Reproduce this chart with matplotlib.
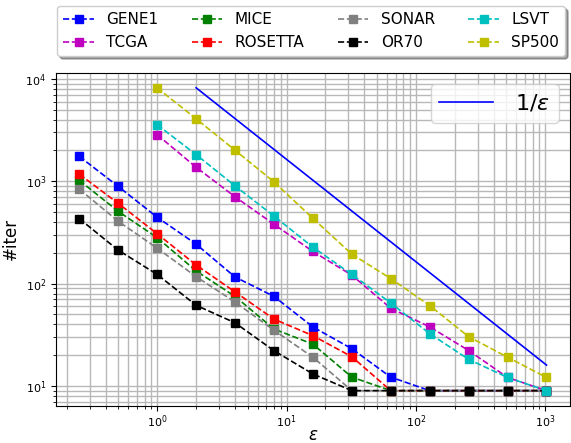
import numpy as np
import matplotlib
matplotlib.use('Agg')
import matplotlib.pyplot as plt

# epsilon values (powers of two)
eps_all = [0.25, 0.5, 1, 2, 4, 8, 16, 32, 64, 128, 256, 512, 1024]
eps_big = [1, 2, 4, 8, 16, 32, 64, 128, 256, 512, 1024]

gene1 = [1750, 890, 445, 243, 116, 75, 37.7, 23.1, 12.2, 9, 9, 9, 9]
tcga = [2850, 1371, 705, 380, 206, 121, 57.4, 37.8, 22.2, 12.1, 9]
mice = [1019, 508, 281, 133, 75, 36, 25.6, 12.2, 9, 9, 9, 9, 9]
rosetta = [1172, 608, 307, 152, 83, 45, 31, 19.3, 9, 9, 9, 9, 9]
sonar = [837, 406, 222, 117, 66, 35, 19.1, 9, 9, 9, 9, 9, 9]
or70 = [431, 212, 123, 61.4, 41.4, 22.1, 13.1, 9, 9, 9, 9, 9, 9]
lsvt = [3565, 1824, 901, 457, 227, 123, 64.7, 32.4, 18.2, 12.1, 9]
sp500 = [8170, 4080, 2010, 986, 434, 194, 112, 61, 30.3, 19.1, 12.1]

# reference 1/eps line
ref_x = [2, 1024]
ref_y = [8192, 16]

series = [
    ('GENE1', eps_all, gene1, 'b'),
    ('TCGA', eps_big, tcga, 'm'),
    ('MICE', eps_all, mice, 'g'),
    ('ROSETTA', eps_all, rosetta, 'r'),
    ('SONAR', eps_all, sonar, 'gray'),
    ('OR70', eps_all, or70, 'k'),
    ('LSVT', eps_big, lsvt, 'c'),
    ('SP500', eps_big, sp500, 'y'),
]

fig, ax = plt.subplots(figsize=(5.71, 4.43), dpi=100)
fig.subplots_adjust(left=0.098, right=0.998, top=0.836, bottom=0.084)

handles = []
for name, xs, ys, col in series:
    h, = ax.plot(xs, ys, '--s', color=col, label=name, markersize=6, linewidth=1.2)
    handles.append(h)

ref, = ax.plot(ref_x, ref_y, '-', color='b', linewidth=1.2)

ax.set_xscale('log')
ax.set_yscale('log')
ax.grid(True, which='both', color='#b8b8b8', linewidth=1.0)
ax.set_axisbelow(True)
ax.tick_params(labelsize=8)
ax.tick_params(axis='x', which='major', pad=2)
ax.set_xlabel(r'$\epsilon$', fontsize=12)
ax.xaxis.set_label_coords(0.5, -0.062)
ax.set_ylabel('#iter', fontsize=12)

leg1 = fig.legend(handles=handles, loc='upper center', bbox_to_anchor=(0.545, 1.003),
                  ncol=4, fontsize=11, shadow=True, fancybox=True, columnspacing=2.2)
leg2 = ax.legend([ref], [r'$1/\epsilon$'], loc='upper right', fontsize=16,
                 handlelength=2.4, handletextpad=1.0)

plt.savefig('out.png', dpi=100)
